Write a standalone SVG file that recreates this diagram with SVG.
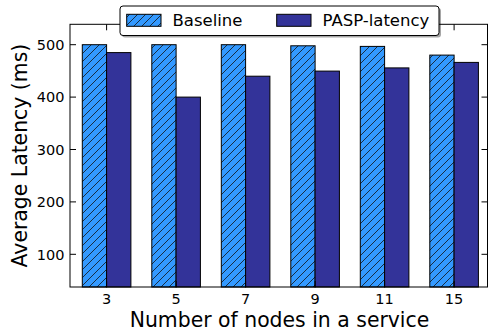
<svg xmlns="http://www.w3.org/2000/svg" width="488" height="331" viewBox="0 0 488 331">
  <style>
    .txt { font-family: "DejaVu Sans", "Liberation Sans", sans-serif; fill: #000; }
    .tick { font-size: 14.5px; }
    .axlabel { font-size: 20.4px; }
    .leg { font-size: 16.5px; }
    .base { fill: #3399ff; }
    .pasp { fill: #333399; }
    .edge { fill: none; stroke: #000; stroke-width: 1; }
    .spine { fill: none; stroke: #000; stroke-width: 1; }
    .tk { stroke: #000; stroke-width: 1; }
  </style>
  <defs>
    <pattern id="hatch" patternUnits="userSpaceOnUse" width="8" height="8">
      <path d="M0,8 L8,0 M-2,2 L2,-2 M6,10 L10,6" stroke="#111" stroke-width="0.8"/>
    </pattern>
  </defs>

  <rect width="488" height="331" fill="#fff"/>

  <!-- bars: Baseline (hatched) and PASP-latency, six groups -->
  <g id="bars">
    <g id="group-3">
      <rect class="base" x="82.3" y="44.7" width="24.3" height="242.3"/>
      <rect x="82.3" y="44.7" width="24.3" height="242.3" fill="url(#hatch)"/>
      <rect class="edge" x="82.3" y="44.7" width="24.3" height="242.3"/>
      <rect class="pasp" x="106.6" y="52.6" width="24.3" height="234.4"/>
      <rect class="edge" x="106.6" y="52.6" width="24.3" height="234.4"/>
    </g>
    <g id="group-5">
      <rect class="base" x="151.8" y="44.7" width="24.3" height="242.3"/>
      <rect x="151.8" y="44.7" width="24.3" height="242.3" fill="url(#hatch)"/>
      <rect class="edge" x="151.8" y="44.7" width="24.3" height="242.3"/>
      <rect class="pasp" x="176.1" y="97.1" width="24.3" height="189.9"/>
      <rect class="edge" x="176.1" y="97.1" width="24.3" height="189.9"/>
    </g>
    <g id="group-7">
      <rect class="base" x="221.3" y="44.7" width="24.3" height="242.3"/>
      <rect x="221.3" y="44.7" width="24.3" height="242.3" fill="url(#hatch)"/>
      <rect class="edge" x="221.3" y="44.7" width="24.3" height="242.3"/>
      <rect class="pasp" x="245.6" y="76.2" width="24.3" height="210.8"/>
      <rect class="edge" x="245.6" y="76.2" width="24.3" height="210.8"/>
    </g>
    <g id="group-9">
      <rect class="base" x="290.8" y="45.8" width="24.3" height="241.2"/>
      <rect x="290.8" y="45.8" width="24.3" height="241.2" fill="url(#hatch)"/>
      <rect class="edge" x="290.8" y="45.8" width="24.3" height="241.2"/>
      <rect class="pasp" x="315.1" y="71.1" width="24.3" height="215.9"/>
      <rect class="edge" x="315.1" y="71.1" width="24.3" height="215.9"/>
    </g>
    <g id="group-11">
      <rect class="base" x="360.3" y="46.4" width="24.3" height="240.6"/>
      <rect x="360.3" y="46.4" width="24.3" height="240.6" fill="url(#hatch)"/>
      <rect class="edge" x="360.3" y="46.4" width="24.3" height="240.6"/>
      <rect class="pasp" x="384.6" y="67.9" width="24.3" height="219.1"/>
      <rect class="edge" x="384.6" y="67.9" width="24.3" height="219.1"/>
    </g>
    <g id="group-15">
      <rect class="base" x="429.8" y="55.1" width="24.3" height="231.9"/>
      <rect x="429.8" y="55.1" width="24.3" height="231.9" fill="url(#hatch)"/>
      <rect class="edge" x="429.8" y="55.1" width="24.3" height="231.9"/>
      <rect class="pasp" x="454.1" y="62.4" width="24.3" height="224.6"/>
      <rect class="edge" x="454.1" y="62.4" width="24.3" height="224.6"/>
    </g>
  </g>

  <!-- axes frame and inward ticks -->
  <g id="axes">
    <rect class="spine" x="70" y="24.3" width="417.5" height="262.7"/>
    <path class="tk" d="M70,44.7 h6 M70,97.1 h6 M70,149.5 h6 M70,201.9 h6 M70,254.3 h6
                         M487.5,44.7 h-6 M487.5,97.1 h-6 M487.5,149.5 h-6 M487.5,201.9 h-6 M487.5,254.3 h-6
                         M106.6,287 v-6 M176.1,287 v-6 M245.6,287 v-6 M315.1,287 v-6 M384.6,287 v-6 M454.1,287 v-6
                         M106.6,24.3 v6 M176.1,24.3 v6 M245.6,24.3 v6 M315.1,24.3 v6 M384.6,24.3 v6 M454.1,24.3 v6"/>
    <g class="txt tick" text-anchor="end">
      <text x="64.5" y="50">500</text>
      <text x="64.5" y="102.4">400</text>
      <text x="64.5" y="154.8">300</text>
      <text x="64.5" y="207.2">200</text>
      <text x="64.5" y="259.6">100</text>
    </g>
    <g class="txt tick" text-anchor="middle">
      <text x="106.6" y="303.5">3</text>
      <text x="176.1" y="303.5">5</text>
      <text x="245.6" y="303.5">7</text>
      <text x="315.1" y="303.5">9</text>
      <text x="384.6" y="303.5">11</text>
      <text x="454.1" y="303.5">15</text>
    </g>
    <text class="txt axlabel" x="279.5" y="326.7" text-anchor="middle">Number of nodes in a service</text>
    <text class="txt axlabel" transform="translate(26.6,155.6) rotate(-90)" text-anchor="middle">Average Latency (ms)</text>
  </g>

  <!-- legend -->
  <g id="legend">
    <rect x="122" y="8" width="319" height="29.5" rx="3" fill="#000" opacity="0.35"/>
    <rect x="120" y="6" width="319" height="29.5" rx="3" fill="#fff" stroke="#000" stroke-width="1"/>
    <g id="legend-baseline">
      <rect class="base" x="126.7" y="14.3" width="34.3" height="12"/>
      <rect x="126.7" y="14.3" width="34.3" height="12" fill="url(#hatch)"/>
      <rect class="edge" x="126.7" y="14.3" width="34.3" height="12"/>
      <text class="txt leg" x="172.5" y="25.7">Baseline</text>
    </g>
    <g id="legend-pasp">
      <rect class="pasp" x="276.7" y="14.3" width="34.3" height="12"/>
      <rect class="edge" x="276.7" y="14.3" width="34.3" height="12"/>
      <text class="txt leg" x="322.5" y="25.7">PASP-latency</text>
    </g>
  </g>
</svg>
